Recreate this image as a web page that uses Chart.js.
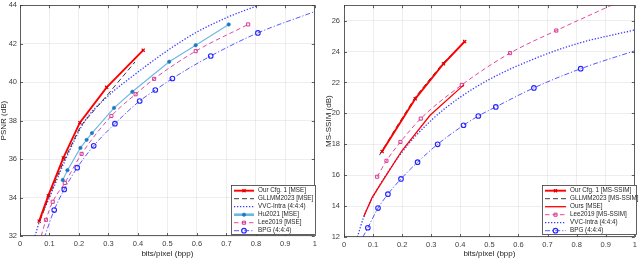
<!DOCTYPE html>
<html><head><meta charset="utf-8">
<script src="https://cdn.jsdelivr.net/npm/chart.js@4/dist/chart.umd.min.js"></script>
<style>
html,body{margin:0;padding:0;background:#fff;}
#wrap{display:flex;width:640px;height:258px;}
canvas{display:block;}
</style>
</head><body>
<div id="wrap"><canvas id="c1" width="320" height="258"></canvas><canvas id="c2" width="320" height="258"></canvas></div>
<script>
// ---------------- data ----------------
const xTicks = [0, 0.1, 0.2, 0.3, 0.4, 0.5, 0.6, 0.7, 0.8, 0.9, 1];
const xTickLabels = ['0', '0.1', '0.2', '0.3', '0.4', '0.5', '0.6', '0.7', '0.8', '0.9', '1'];
const psnrTicks = [32, 34, 36, 38, 40, 42, 44];
const msssimTicks = [12, 14, 16, 18, 20, 22, 24, 26];

// Left panel: PSNR (dB) vs bits/pixel
const cfg1PsnrBpp = [0.065, 0.096, 0.147, 0.203, 0.294, 0.418];
const cfg1Psnr    = [32.77, 34.10, 36.06, 37.89, 39.73, 41.66];
const gllmmPsnrBpp = [0.068, 0.098, 0.150, 0.205, 0.300, 0.390];
const gllmmPsnr    = [32.80, 34.05, 35.95, 37.70, 39.40, 41.05];
const vvcPsnrBpp = [0.051, 0.068, 0.100, 0.155, 0.220, 0.300, 0.381, 0.506, 0.596, 0.708, 0.800, 0.820];
const vvcPsnr    = [32.00, 32.85, 34.00, 36.00, 37.98, 39.30, 40.30, 41.70, 42.57, 43.40, 43.94, 44.05];
const huPsnrBpp = [0.145, 0.161, 0.205, 0.226, 0.244, 0.319, 0.381, 0.506, 0.596, 0.708];
const huPsnr    = [34.91, 35.42, 36.58, 37.00, 37.35, 38.66, 39.50, 41.06, 41.92, 43.00];
const leePsnrHeadBpp = [0.072];
const leePsnrHead    = [32.00];
const leePsnrBpp = [0.088, 0.111, 0.152, 0.209, 0.310, 0.392, 0.455, 0.596, 0.774];
const leePsnr    = [32.84, 33.78, 34.76, 36.27, 38.24, 39.37, 40.17, 41.61, 43.00];
const bpgPsnrHeadBpp = [0.082];
const bpgPsnrHead    = [31.90];
const bpgPsnrBpp = [0.116, 0.150, 0.194, 0.250, 0.322, 0.406, 0.459, 0.517, 0.647, 0.807];
const bpgPsnr    = [33.35, 34.42, 35.55, 36.69, 37.84, 39.02, 39.59, 40.19, 41.36, 42.56];
const bpgPsnrTailBpp = [1.000];
const bpgPsnrTail    = [43.67];

// Right panel: MS-SSIM (dB) vs bits/pixel
const cfg1SsimBpp = [0.131, 0.245, 0.342, 0.415];
const cfg1Ssim    = [17.53, 20.94, 23.21, 24.65];
const gllmmSsimBpp = [0.122, 0.175, 0.245, 0.340, 0.410];
const gllmmSsim    = [17.30, 18.95, 21.05, 23.25, 24.55];
const oursMseSsimBpp = [0.068, 0.097, 0.199, 0.296, 0.413];
const oursMseSsim    = [13.33, 14.57, 17.58, 19.88, 21.86];
const leeSsimBpp = [0.114, 0.146, 0.194, 0.264, 0.405, 0.571, 0.730];
const leeSsim    = [15.90, 16.93, 18.15, 19.66, 21.84, 23.90, 25.36];
const leeSsimTailBpp = [0.920, 1.000];
const leeSsimTail    = [27.00, 27.70];
const vvcSsimBpp = [0.046, 0.068, 0.100, 0.200, 0.300, 0.400, 0.500, 0.650, 0.800, 1.000];
const vvcSsim    = [12.00, 13.30, 14.60, 17.50, 19.55, 21.05, 22.20, 23.50, 24.50, 25.40];
const bpgSsimHeadBpp = [0.065];
const bpgSsimHead    = [12.00];
const bpgSsimBpp = [0.082, 0.117, 0.151, 0.196, 0.253, 0.322, 0.411, 0.462, 0.522, 0.653, 0.814];
const bpgSsim    = [12.60, 13.87, 14.77, 15.76, 16.84, 18.00, 19.23, 19.83, 20.42, 21.65, 22.89];
const bpgSsimTailBpp = [1.000];
const bpgSsimTail    = [24.05];

const leftLabels  = ['Our Cfg. 1 [MSE]', 'GLLMM2023 [MSE]', 'VVC-Intra (4:4:4)', 'Hu2021 [MSE]', 'Lee2019 [MSE]', 'BPG (4:4:4)'];
const rightLabels = ['Our Cfg. 1 [MS-SSIM]', 'GLLMM2023 [MS-SSIM]', 'Ours [MSE]', 'Lee2019 [MS-SSIM]', 'VVC-Intra (4:4:4)', 'BPG (4:4:4)'];

// ---------------- styles ----------------
const FONT = '"Liberation Sans", Arial, Helvetica, sans-serif';
const ST = {
  cfg1:  {color:'#ff0000', width:1.9, dash:[], marker:'crossRot', mr:2.2, mfill:'rgba(0,0,0,0)', mline:'#e00000', mbw:1.2},
  gllmm: {color:'#262626', width:0.9, dash:[5,3]},
  vvc:   {color:'#3b3bff', width:1.3, dash:[1.3,1.7], smooth:true},
  hu:    {color:'#6bb8e6', width:1.1, dash:[], marker:'circle', mr:1.7, mfill:'#1b79c0', mline:'#1b79c0', mbw:0.6, legendWidth:2.6},
  lee:   {color:'#e3489f', width:1.0, dash:[4.5,3], marker:'rect', mr:2.2, mfill:'rgba(0,0,0,0)', mline:'#d63a93', mbw:1.0, smooth:true},
  bpg:   {color:'#4545ff', width:0.9, dash:[5,2,1.2,2], marker:'circle', mr:2.3, mfill:'rgba(0,0,0,0)', mline:'#2424ff', mbw:1.1, smooth:true},
  mse:   {color:'#ff0000', width:1.3, dash:[]}
};

function pts(xs, ys) { return xs.map((x, i) => ({x: x, y: ys[i]})); }

function series(st, xs, ys, headX, headY, tailX, tailY) {
  const out = [];
  if (st.marker) {
    out.push({
      data: pts(xs, ys), showLine: false, pointStyle: st.marker, pointRadius: st.mr,
      pointBackgroundColor: st.mfill, pointBorderColor: st.mline, pointBorderWidth: st.mbw, clip: 0
    });
  }
  const lx = (headX || []).concat(xs, tailX || []);
  const ly = (headY || []).concat(ys, tailY || []);
  out.push({
    data: pts(lx, ly), showLine: true, borderColor: st.color, borderWidth: st.width, borderDash: st.dash,
    pointRadius: 0, fill: false, clip: 0,
    cubicInterpolationMode: st.smooth ? 'monotone' : 'default', tension: 0
  });
  return out;
}

const frame = {
  id: 'frame',
  afterDatasetsDraw(chart) {
    const {ctx, chartArea: a, scales: {x, y}} = chart;
    ctx.save();
    ctx.strokeStyle = '#3a3a3a';
    ctx.lineWidth = 0.8;
    ctx.setLineDash([]);
    ctx.beginPath();
    x.ticks.forEach(t => {
      const p = Math.round(x.getPixelForValue(t.value)) + 0.5;
      ctx.moveTo(p, a.bottom); ctx.lineTo(p, a.bottom - 3);
      ctx.moveTo(p, a.top); ctx.lineTo(p, a.top + 3);
    });
    y.ticks.forEach(t => {
      const p = Math.round(y.getPixelForValue(t.value)) + 0.5;
      ctx.moveTo(a.left, p); ctx.lineTo(a.left + 3, p);
      ctx.moveTo(a.right, p); ctx.lineTo(a.right - 3, p);
    });
    ctx.stroke();
    ctx.strokeRect(Math.round(a.left) + 0.5, Math.round(a.top) + 0.5, Math.round(a.width) - 1, Math.round(a.height) - 1);
    ctx.restore();
  },
  afterDraw(chart, args, opts) {
    const L = opts.legend;
    if (!L) return;
    const ctx = chart.ctx;
    ctx.save();
    ctx.fillStyle = '#ffffff';
    ctx.fillRect(L.x, L.y, L.w, L.h);
    ctx.strokeStyle = '#3a3a3a';
    ctx.lineWidth = 0.8;
    ctx.setLineDash([]);
    ctx.strokeRect(L.x + 0.5, L.y + 0.5, L.w - 1, L.h - 1);
    ctx.font = '6.3px ' + FONT;
    ctx.textBaseline = 'middle';
    ctx.textAlign = 'left';
    L.entries.forEach((e, i) => {
      const st = e.st;
      const ry = L.y + L.row0 + i * L.dy;
      const x0 = L.x + 3, x1 = x0 + L.sample;
      ctx.strokeStyle = st.color;
      ctx.lineWidth = st.legendWidth || st.width;
      ctx.setLineDash(st.dash);
      ctx.beginPath(); ctx.moveTo(x0, ry); ctx.lineTo(x1, ry); ctx.stroke();
      ctx.setLineDash([]);
      if (st.marker) {
        ctx.fillStyle = st.mfill; ctx.strokeStyle = st.mline; ctx.lineWidth = st.mbw;
        Chart.helpers.drawPoint(ctx, {pointStyle: st.marker, radius: st.mr, borderWidth: st.mbw, rotation: 0}, (x0 + x1) / 2, ry);
      }
      ctx.fillStyle = '#262626';
      ctx.fillText(e.label, x1 + 4, ry);
    });
    ctx.restore();
  }
};

function makeChart(id, datasets, yTicks, yMin, yMax, yTitle, geo, legend) {
  return new Chart(document.getElementById(id), {
    type: 'scatter',
    data: {datasets: datasets},
    plugins: [frame],
    options: {
      responsive: false, animation: false, devicePixelRatio: 1,
      layout: {padding: {top: geo.top, right: geo.right, left: 0, bottom: 0}},
      plugins: {legend: {display: false}, tooltip: {enabled: false}, frame: {legend: legend}},
      events: [],
      scales: {
        x: {
          type: 'linear', min: 0, max: 1,
          afterBuildTicks: s => { s.ticks = xTicks.map(v => ({value: v})); },
          afterFit: s => { s.height = geo.xh; s.paddingLeft = 0; s.paddingRight = 0; },
          ticks: {callback: (v, i) => xTickLabels[i], color: '#404040', font: {family: FONT, size: 7.5}, padding: 3, maxRotation: 0, autoSkip: false},
          grid: {color: 'rgba(0,0,0,0.085)', drawTicks: false, lineWidth: 0.8},
          border: {display: false},
          title: {display: true, text: 'bits/pixel (bpp)', color: '#262626', font: {family: FONT, size: 8, lineHeight: 1}, padding: {top: 0, bottom: 0}}
        },
        y: {
          type: 'linear', min: yMin, max: yMax,
          afterBuildTicks: s => { s.ticks = yTicks.map(v => ({value: v})); },
          afterFit: s => { s.width = geo.yw; s.paddingTop = 0; s.paddingBottom = 0; },
          ticks: {color: '#404040', font: {family: FONT, size: 7.5}, padding: geo.ypad, autoSkip: false},
          grid: {color: 'rgba(0,0,0,0.085)', drawTicks: false, lineWidth: 0.8},
          border: {display: false},
          title: {display: true, text: yTitle, color: '#262626', font: {family: FONT, size: 8, lineHeight: 1}, padding: {top: geo.ytp, bottom: 0}}
        }
      }
    }
  });
}

// ---------------- left chart ----------------
const leftSets = [].concat(
  series(ST.cfg1, cfg1PsnrBpp, cfg1Psnr),
  series(ST.gllmm, gllmmPsnrBpp, gllmmPsnr),
  series(ST.vvc, vvcPsnrBpp, vvcPsnr),
  series(ST.hu, huPsnrBpp, huPsnr),
  series(ST.lee, leePsnrBpp, leePsnr, leePsnrHeadBpp, leePsnrHead),
  series(ST.bpg, bpgPsnrBpp, bpgPsnr, bpgPsnrHeadBpp, bpgPsnrHead, bpgPsnrTailBpp, bpgPsnrTail)
);
const leftStyles = [ST.cfg1, ST.gllmm, ST.vvc, ST.hu, ST.lee, ST.bpg];
makeChart('c1', leftSets, psnrTicks, 32, 44, 'PSNR (dB)',
  {top: 3, right: 4, xh: 22, yw: 20, ypad: 3, ytp: 0},
  {x: 231, y: 185, w: 85, h: 50, row0: 5.7, dy: 8, sample: 20,
   entries: leftLabels.map((l, i) => ({label: l, st: leftStyles[i]}))});

// ---------------- right chart ----------------
const rightSets = [].concat(
  series(ST.cfg1, cfg1SsimBpp, cfg1Ssim),
  series(ST.gllmm, gllmmSsimBpp, gllmmSsim),
  series(ST.mse, oursMseSsimBpp, oursMseSsim),
  series(ST.lee, leeSsimBpp, leeSsim, null, null, leeSsimTailBpp, leeSsimTail),
  series(ST.vvc, vvcSsimBpp, vvcSsim),
  series(ST.bpg, bpgSsimBpp, bpgSsim, bpgSsimHeadBpp, bpgSsimHead, bpgSsimTailBpp, bpgSsimTail)
);
const rightStyles = [ST.cfg1, ST.gllmm, ST.mse, ST.lee, ST.vvc, ST.bpg];
makeChart('c2', rightSets, msssimTicks, 12, 27, 'MS-SSIM (dB)',
  {top: 4, right: 3, xh: 21, yw: 24, ypad: 4, ytp: 5},
  {x: 222, y: 185, w: 95, h: 50, row0: 5.7, dy: 8, sample: 21,
   entries: rightLabels.map((l, i) => ({label: l, st: rightStyles[i]}))});
</script>
</body></html>
